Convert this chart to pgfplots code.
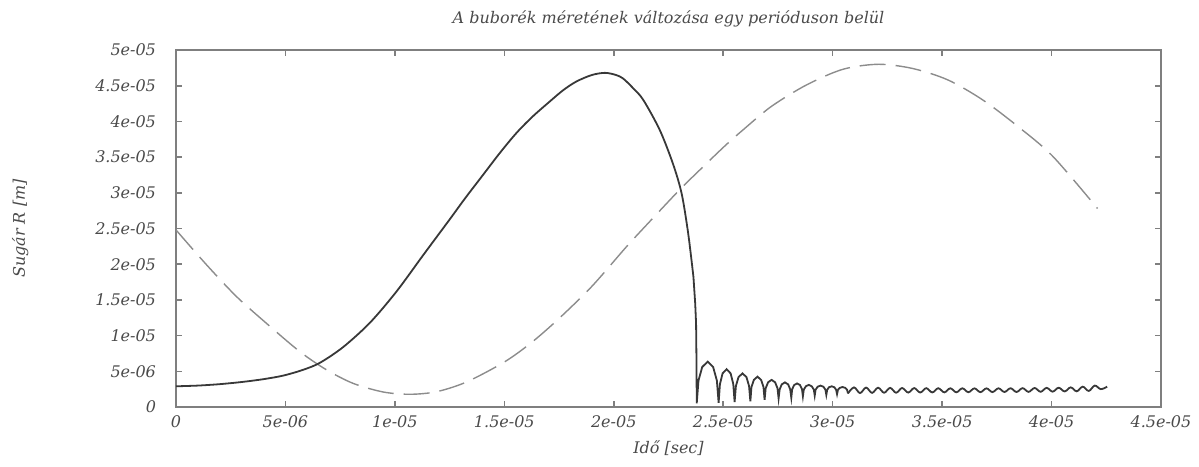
\documentclass[border=0pt]{standalone}
\usepackage{pgfplots}
\pgfplotsset{compat=1.18}
\usepackage{fontspec}
\setmainfont{DejaVu Serif}

\definecolor{axisgray}{HTML}{7F7F7F}
\definecolor{curvedark}{HTML}{383838}
\definecolor{dashgray}{HTML}{8C8C8C}
\definecolor{textgray}{HTML}{4A4A4A}

\begin{document}
\begin{tikzpicture}
\begin{axis}[
  scale only axis,
  width=492.5pt, height=178.5pt,
  xmin=0, xmax=4.5e-5, ymin=0, ymax=5e-5,
  axis line style={axisgray, line width=0.8pt},
  tick style={axisgray, line width=0.8pt},
  major tick length=3pt,
  tick align=inside,
  scaled x ticks=false, scaled y ticks=false,
  xtick={0,5e-6,1e-5,1.5e-5,2e-5,2.5e-5,3e-5,3.5e-5,4e-5,4.5e-5},
  xticklabels={0,5e-06,1e-05,1.5e-05,2e-05,2.5e-05,3e-05,3.5e-05,4e-05,4.5e-05},
  ytick={0,5e-6,1e-5,1.5e-5,2e-5,2.5e-5,3e-5,3.5e-5,4e-5,4.5e-5,5e-5},
  yticklabels={0,5e-06,1e-05,1.5e-05,2e-05,2.5e-05,3e-05,3.5e-05,4e-05,4.5e-05,5e-05},
  /pgf/number format/assume math mode=true,
  ticklabel style={font=\fontsize{8}{10}\selectfont\itshape, text=textgray},
  yticklabel style={xshift=-6.5pt},
  xticklabel style={yshift=-1pt},
  every axis title shift=0pt,
  title={A buborék méretének változása egy perióduson belül},
  title style={font=\fontsize{8}{10}\selectfont\itshape, text=textgray,
    at={(axis description cs:0.5,1.087)}, anchor=center},
  xlabel={Idő [sec]},
  xlabel style={font=\fontsize{8}{10}\selectfont\itshape, text=textgray,
    at={(axis description cs:0.5,-0.115)}, anchor=center},
  ylabel={Sugár R [m]},
  ylabel style={font=\fontsize{8}{10}\selectfont\itshape, text=textgray,
    at={(axis description cs:-0.158,0.5)}, anchor=center, rotate=0},
]
% driving term (dashed)
\addplot[dashgray, line width=0.7pt, smooth, dash pattern=on 13pt off 5pt] coordinates {
(0,2.48e-5) (0.14e-5,1.99e-5) (0.277e-5,1.545e-5) (0.414e-5,1.17e-5) (0.566e-5,0.775e-5)
(0.688e-5,0.52e-5) (0.81e-5,0.33e-5) (0.947e-5,0.21e-5) (1.068e-5,0.178e-5) (1.19e-5,0.214e-5)
(1.327e-5,0.35e-5) (1.5e-5,0.63e-5) (1.625e-5,0.905e-5) (1.75e-5,1.24e-5) (1.9e-5,1.69e-5)
(2.058e-5,2.245e-5) (2.165e-5,2.60e-5) (2.30e-5,3.04e-5) (2.393e-5,3.32e-5) (2.507e-5,3.655e-5)
(2.59e-5,3.88e-5) (2.72e-5,4.21e-5) (2.88e-5,4.51e-5) (3.047e-5,4.73e-5) (3.21e-5,4.80e-5)
(3.367e-5,4.74e-5) (3.527e-5,4.58e-5) (3.686e-5,4.30e-5) (3.846e-5,3.93e-5) (4.006e-5,3.51e-5)
(4.21e-5,2.78e-5) };

% bubble radius: growth
\addplot[curvedark, line width=0.9pt, smooth] coordinates {
(0,0.29e-5) (0.1e-5,0.30e-5) (0.2e-5,0.32e-5) (0.3e-5,0.35e-5) (0.4e-5,0.39e-5)
(0.49e-5,0.44e-5) (0.58e-5,0.52e-5) (0.658e-5,0.62e-5) (0.764e-5,0.84e-5) (0.886e-5,1.18e-5)
(1.008e-5,1.62e-5) (1.13e-5,2.13e-5) (1.251e-5,2.63e-5) (1.32e-5,2.92e-5) (1.40e-5,3.24e-5)
(1.48e-5,3.56e-5) (1.556e-5,3.84e-5) (1.63e-5,4.07e-5) (1.708e-5,4.28e-5) (1.77e-5,4.44e-5)
(1.83e-5,4.56e-5) (1.9e-5,4.65e-5) (1.96e-5,4.68e-5)
(2.01e-5,4.65e-5) (2.043e-5,4.60e-5) (2.09e-5,4.46e-5) (2.135e-5,4.30e-5) (2.21e-5,3.88e-5)
(2.27e-5,3.41e-5) (2.31e-5,2.99e-5) (2.34e-5,2.43e-5) (2.364e-5,1.82e-5) };

% collapse and rebounds
\addplot[curvedark, line width=0.9pt] coordinates {
(2.364e-5,1.82e-5) (2.372e-5,1.45e-5) (2.376e-5,1.17e-5) (2.378e-5,0.6e-5) (2.379e-5,0.05e-5)
(2.387e-5,0.37e-5) (2.404e-5,0.56e-5) (2.429e-5,0.635e-5) (2.454e-5,0.56e-5) (2.471e-5,0.37e-5) (2.479e-5,0.06e-5)
(2.485e-5,0.32e-5) (2.497e-5,0.47e-5) (2.5155e-5,0.53e-5) (2.534e-5,0.47e-5) (2.546e-5,0.32e-5) (2.552e-5,0.07e-5)
(2.558e-5,0.295e-5) (2.570e-5,0.42e-5) (2.588e-5,0.47e-5) (2.606e-5,0.42e-5) (2.618e-5,0.295e-5) (2.624e-5,0.08e-5)
(2.629e-5,0.28e-5) (2.640e-5,0.38e-5) (2.6565e-5,0.425e-5) (2.673e-5,0.38e-5) (2.684e-5,0.28e-5) (2.689e-5,0.10e-5)
(2.694e-5,0.263e-5) (2.705e-5,0.346e-5) (2.721e-5,0.38e-5) (2.737e-5,0.346e-5) (2.748e-5,0.263e-5) (2.753e-5,0.12e-5)
(2.758e-5,0.248e-5) (2.7675e-5,0.317e-5) (2.782e-5,0.345e-5) (2.7965e-5,0.317e-5) (2.806e-5,0.248e-5) (2.811e-5,0.13e-5)
(2.815e-5,0.249e-5) (2.824e-5,0.307e-5) (2.8375e-5,0.33e-5) (2.851e-5,0.307e-5) (2.860e-5,0.249e-5) (2.864e-5,0.15e-5)
(2.868e-5,0.243e-5) (2.8775e-5,0.29e-5) (2.891e-5,0.31e-5) (2.9045e-5,0.29e-5) (2.914e-5,0.243e-5) (2.918e-5,0.16e-5)
(2.922e-5,0.242e-5) (2.931e-5,0.283e-5) (2.9445e-5,0.30e-5) (2.958e-5,0.283e-5) (2.967e-5,0.242e-5) (2.971e-5,0.17e-5)
(2.975e-5,0.24e-5) (2.983e-5,0.276e-5) (2.9955e-5,0.29e-5) (3.008e-5,0.276e-5) (3.016e-5,0.24e-5) (3.020e-5,0.18e-5)
(3.024e-5,0.24e-5) (3.0325e-5,0.268e-5) (3.045e-5,0.28e-5) (3.0575e-5,0.268e-5) (3.066e-5,0.24e-5) (3.070e-5,0.19e-5) };

% late small oscillations
\addplot[curvedark, line width=0.9pt, smooth, tension=0.6] coordinates {
(3.070e-5,0.19e-5) (3.0975e-5,0.275e-5) (3.125e-5,0.195e-5) (3.1525e-5,0.272e-5) (3.180e-5,0.198e-5)
(3.2075e-5,0.27e-5) (3.235e-5,0.20e-5) (3.2625e-5,0.268e-5) (3.290e-5,0.20e-5) (3.3175e-5,0.266e-5)
(3.345e-5,0.202e-5) (3.3725e-5,0.265e-5) (3.400e-5,0.203e-5) (3.4275e-5,0.264e-5) (3.455e-5,0.204e-5)
(3.4825e-5,0.263e-5) (3.510e-5,0.205e-5) (3.5375e-5,0.262e-5) (3.565e-5,0.206e-5) (3.5925e-5,0.262e-5)
(3.620e-5,0.207e-5) (3.6475e-5,0.261e-5) (3.675e-5,0.208e-5) (3.7025e-5,0.261e-5) (3.730e-5,0.209e-5)
(3.7575e-5,0.262e-5) (3.785e-5,0.21e-5) (3.8125e-5,0.263e-5) (3.840e-5,0.21e-5) (3.8675e-5,0.264e-5)
(3.895e-5,0.212e-5) (3.9225e-5,0.266e-5) (3.950e-5,0.213e-5) (3.9775e-5,0.268e-5) (4.005e-5,0.215e-5)
(4.0325e-5,0.27e-5) (4.060e-5,0.218e-5) (4.0875e-5,0.275e-5) (4.115e-5,0.22e-5) (4.1425e-5,0.285e-5)
(4.170e-5,0.225e-5) (4.1975e-5,0.30e-5) (4.225e-5,0.25e-5) (4.254e-5,0.285e-5) };
\end{axis}
\pgfresetboundingbox
\path (current axis.south west) ++(-88pt,-29.5pt) coordinate (bbA)
      (current axis.north east) ++(19pt,25pt) coordinate (bbB);
\useasboundingbox (bbA) rectangle (bbB);
\end{tikzpicture}
\end{document}
